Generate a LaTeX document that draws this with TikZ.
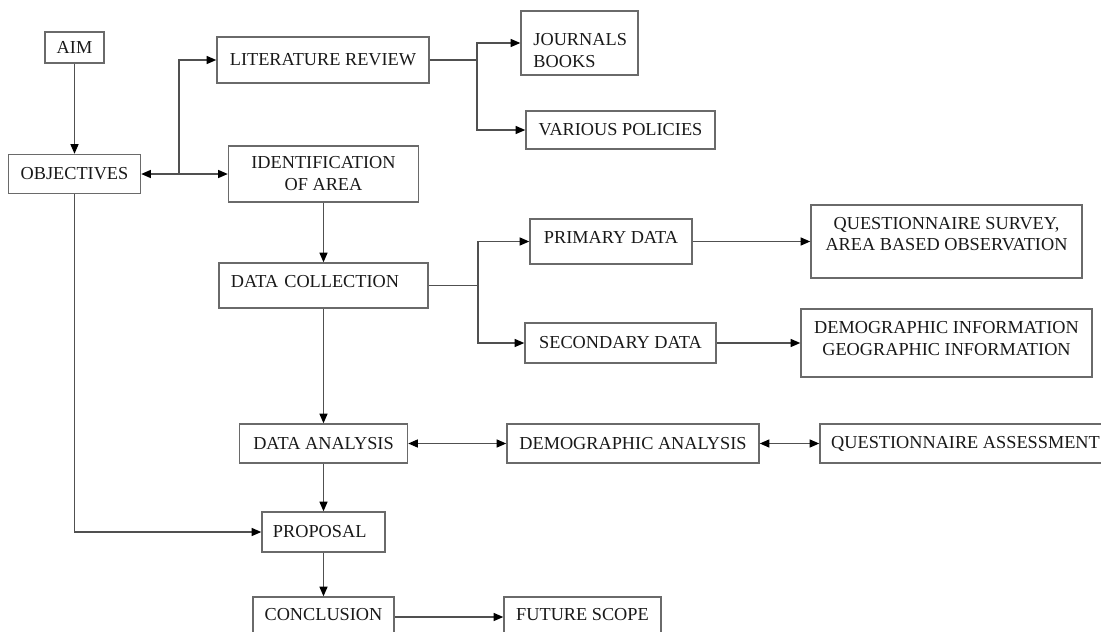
\documentclass[tikz,border=0pt]{standalone}
\usepackage{fontspec}
\setmainfont{Liberation Serif}
\usetikzlibrary{arrows.meta}
\definecolor{boxgray}{HTML}{6A6A6A}
\definecolor{linegray}{HTML}{505050}
\begin{document}
\begin{tikzpicture}[x=0.025cm, y=-0.025cm]

\tikzstyle{box} = [rectangle, draw=boxgray, line width=1pt, inner sep=0pt, text=black!90, font=\fontsize{13}{15.6}\selectfont]
\tikzstyle{con} = [draw=linegray, line width=0.9pt]
\tikzstyle{arr} = [con, -{Triangle[length=2.4mm,width=2mm,color=black]}]
\tikzstyle{dbl} = [con, {Triangle[length=2.4mm,width=2mm,color=black]}-{Triangle[length=2.4mm,width=2mm,color=black]}]

\useasboundingbox (0,0) rectangle (1101,632);

\node[box, minimum width=1.475cm, minimum height=0.775cm] (aim) at (74.5,47.5) {AIM};
\node[box, minimum width=3.3cm, minimum height=0.975cm] (obj) at (74.5,174) {OBJECTIVES};

\node[box, minimum width=5.3cm, minimum height=1.15cm] (lit) at (323,60) {LITERATURE REVIEW};
\node[box, minimum width=4.75cm, minimum height=1.4cm, align=center] (ident) at (323.5,174) {IDENTIFICATION\\OF AREA};

\node[box, minimum width=2.925cm, minimum height=1.6cm, text width=2.3cm, align=left, text depth=5pt] (journ) at (579.5,43) {JOURNALS\\BOOKS};
\node[box, minimum width=4.725cm, minimum height=0.95cm] (policies) at (620.5,130) {VARIOUS POLICIES};

\node[box, minimum width=5.225cm, minimum height=1.125cm, text width=4.625cm, align=left, text depth=6.4pt] (coll) at (323.5,285.5) {DATA COLLECTION};
\node[box, minimum width=4.05cm, minimum height=1.125cm, text depth=6.4pt] (primary) at (611,241.5) {PRIMARY DATA};
\node[box, minimum width=4.775cm, minimum height=1cm] (secondary) at (620.5,343) {SECONDARY DATA};

\node[box, minimum width=6.775cm, minimum height=1.825cm, align=center, text depth=10.7pt] (survey) at (946.5,241.5) {QUESTIONNAIRE SURVEY,\\AREA BASED OBSERVATION};
\node[box, minimum width=7.275cm, minimum height=1.7cm, align=center, text depth=6.4pt] (info) at (946.5,343) {DEMOGRAPHIC INFORMATION\\GEOGRAPHIC INFORMATION};

\node[box, minimum width=4.2cm, minimum height=0.975cm] (analysis) at (323.5,443.5) {DATA ANALYSIS};
\node[box, minimum width=6.3cm, minimum height=0.975cm] (demo) at (633,443.5) {DEMOGRAPHIC ANALYSIS};
\node[box, minimum width=7.275cm, minimum height=0.975cm] (assess) at (965.5,443.5) {QUESTIONNAIRE ASSESSMENT};

\node[box, minimum width=3.075cm, minimum height=1cm, text width=2.525cm, align=left] (proposal) at (323.5,532) {PROPOSAL};
\node[box, minimum width=3.525cm, minimum height=1cm, text depth=4.3pt] (concl) at (323.5,617) {CONCLUSION};
\node[box, minimum width=3.925cm, minimum height=1cm, text depth=4.3pt] (future) at (582.5,617) {FUTURE SCOPE};

\coordinate (j1) at (179,174);
\coordinate (j2) at (477,60);
\coordinate (j3) at (478,285.5);

\draw[arr] (aim) -- (obj);
\draw[dbl] (obj) -- (ident);
\draw[arr] (j1) |- (lit);
\draw[con] (lit) -- (j2);
\draw[arr] (j2) |- (journ);
\draw[arr] (j2) |- (policies);

\draw[arr] (ident) -- (coll);
\draw[con] (coll) -- (j3);
\draw[arr] (j3) |- (primary);
\draw[arr] (j3) |- (secondary);
\draw[arr] (primary) -- (survey);
\draw[arr] (secondary) -- (info);

\draw[arr] (coll) -- (analysis);
\draw[dbl] (analysis) -- (demo);
\draw[dbl] (demo) -- (assess);
\draw[arr] (analysis) -- (proposal);
\draw[arr] (obj) |- (proposal);
\draw[arr] (proposal) -- (concl);
\draw[arr] (concl) -- (future);
\end{tikzpicture}
\end{document}
